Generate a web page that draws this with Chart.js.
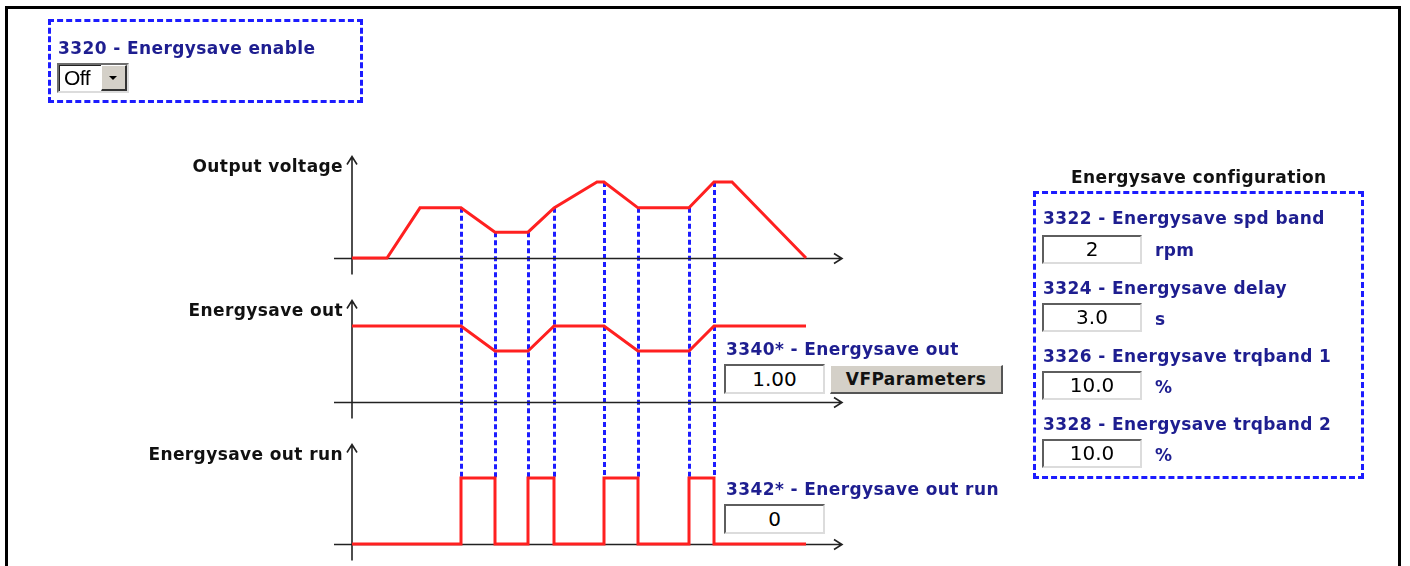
<!DOCTYPE html>
<html>
<head>
<meta charset="utf-8">
<script src="https://cdn.jsdelivr.net/npm/chart.js@4.4.1/dist/chart.umd.min.js"></script>
<style>
  body { margin: 0; background: #fff; }
  #page { position: relative; width: 1410px; height: 566px; overflow: hidden; font-family: "DejaVu Sans", Verdana, sans-serif; }
  #frame { position: absolute; left: 5px; top: 6px; width: 1390px; height: 600px; border: 3px solid #000; }
  #diagram { position: absolute; left: 0; top: 0; }
  .t { position: absolute; font-weight: bold; font-size: 17px; line-height: 17px; letter-spacing: 0.4px; white-space: nowrap; }
  .blue { color: #1e1e90; }
  .black { color: #111; }
  .right { text-align: right; }
  .box { position: absolute; border: 3px dashed #1c1cff; }
  .field { position: absolute; box-sizing: border-box; background: #fff;
    border-top: 2px solid #5e5e5e; border-left: 2px solid #5e5e5e;
    border-bottom: 2px solid #dcdcdc; border-right: 2px solid #dcdcdc;
    font-size: 20px; text-align: center; color: #000; }
  .button { position: absolute; box-sizing: border-box; background: #d4d0c8;
    border-top: 1px solid #fff; border-left: 1px solid #fff;
    border-bottom: 2px solid #555; border-right: 2px solid #555;
    font-weight: bold; font-size: 17px; letter-spacing: 0.4px; text-align: center; color: #111; }
  .select { position: absolute; box-sizing: border-box; left: 57px; top: 63px; width: 72px; height: 30px; background: #fff;
    border-top: 2px solid #6e6e6e; border-left: 2px solid #6e6e6e;
    border-bottom: 2px solid #dcdcdc; border-right: 2px solid #dcdcdc;
    box-shadow: inset 1px 1px 0 #222; }
  .select span { position: absolute; left: 5px; top: 0; font-family: "Liberation Sans", Arial, sans-serif; font-size: 21px; line-height: 26px; letter-spacing: -0.5px; color: #000; }
  .select .drop { position: absolute; right: 0; top: 0; width: 26px; height: 26px; box-sizing: border-box; background: #d4d0c8;
    border-top: 1px solid #fff; border-left: 1px solid #fff; border-bottom: 2px solid #333; border-right: 2px solid #333; }
  .select .drop:after { content: ""; position: absolute; left: 7px; top: 10px; border-left: 4px solid transparent; border-right: 4px solid transparent; border-top: 4px solid #000; }
</style>
</head>
<body>
<div id="page">
  <div id="frame"></div>
  <canvas id="diagram" width="1410" height="566"></canvas>

  <div class="box" style="left:48px; top:19px; width:309px; height:78px;"></div>
  <div class="t blue" style="left:58px; top:40px;">3320 - Energysave enable</div>
  <div class="select"><span>Off</span><div class="drop"></div></div>

  <div class="t black right" style="right:1067px; top:158px;">Output voltage</div>
  <div class="t black right" style="right:1067px; top:302px;">Energysave out</div>
  <div class="t black right" style="right:1067px; top:446px;">Energysave out run</div>

  <div class="t blue" style="left:726px; top:341px;">3340* - Energysave out</div>
  <div class="field" style="left:724px; top:364px; width:101px; height:30px; line-height:26px;">1.00</div>
  <div class="button" style="left:830px; top:365px; width:173px; height:29px; line-height:26px;">VFParameters</div>

  <div class="t blue" style="left:726px; top:481px;">3342* - Energysave out run</div>
  <div class="field" style="left:724px; top:504px; width:101px; height:30px; line-height:26px;">0</div>

  <div class="t black" style="left:1071px; top:169px;">Energysave configuration</div>
  <div class="box" style="left:1033px; top:191px; width:325px; height:282px;"></div>
  <div class="t blue" style="left:1043px; top:210px;">3322 - Energysave spd band</div>
  <div class="field" style="left:1042px; top:235px; width:100px; height:29px; line-height:25px;">2</div>
  <div class="t blue" style="left:1155px; top:242px;">rpm</div>
  <div class="t blue" style="left:1043px; top:280px;">3324 - Energysave delay</div>
  <div class="field" style="left:1042px; top:303px; width:100px; height:29px; line-height:25px;">3.0</div>
  <div class="t blue" style="left:1155px; top:311px;">s</div>
  <div class="t blue" style="left:1043px; top:348px;">3326 - Energysave trqband 1</div>
  <div class="field" style="left:1042px; top:371px; width:100px; height:29px; line-height:25px;">10.0</div>
  <div class="t blue" style="left:1155px; top:379px;">%</div>
  <div class="t blue" style="left:1043px; top:416px;">3328 - Energysave trqband 2</div>
  <div class="field" style="left:1042px; top:439px; width:100px; height:29px; line-height:25px;">10.0</div>
  <div class="t blue" style="left:1155px; top:447px;">%</div>
</div>

<script>
// time in tenths of a second
const voltageTime  = [0, 3.5, 6.8, 10.9, 14.3, 17.6, 20.2, 24.5, 25.2, 28.6, 33.7, 36.2, 38.0, 45.4];
const voltageValue = [0, 0, 66, 66, 34, 34, 66, 100, 100, 66, 66, 100, 100, 0];

const esOutTime  = [0, 10.9, 14.3, 17.6, 20.2, 25.2, 28.6, 33.7, 36.2, 45.4];
const esOutValue = [1, 1, 0.67, 0.67, 1, 1, 0.67, 0.67, 1, 1];

// out run is a square wave, each edge listed twice
const runTime  = [0, 10.9, 10.9, 14.3, 14.3, 17.6, 17.6, 20.2, 20.2, 25.2, 25.2, 28.6, 28.6, 33.7, 33.7, 36.2, 36.2, 45.4];
const runValue = [0, 0, 1, 1, 0, 0, 1, 1, 0, 0, 1, 1, 0, 0, 1, 1, 0, 0];

// blue dashed guides where energysave switches
const markerTime = [10.9, 14.3, 17.6, 20.2, 25.2, 28.6, 33.7, 36.2];

// layout of the drawing area (pixels)
const AREA = { left: 330, right: 850, top: 150, bottom: 560 };
const X_MIN = -2.2, X_MAX = 49.8;
const AXIS_X_FROM = -1.8, AXIS_X_TO = 49.0;
const RED = "#ff2020";

function pairs(xs, ys) {
  return xs.map((x, i) => ({ x: x, y: ys[i] }));
}

// puts value 0 at the baseline pixel, pxPerUnit pixels for each unit
function panelScale(baseline, pxPerUnit) {
  return {
    type: "linear",
    display: false,
    min: -(AREA.bottom - baseline) / pxPerUnit,
    max: (baseline - AREA.top) / pxPerUnit,
  };
}

function lineSet(data, axis) {
  return {
    data: data,
    yAxisID: axis,
    borderColor: RED,
    borderWidth: 3,
    pointRadius: 0,
    tension: 0,
    fill: false,
  };
}

// arrowed axes for each panel and the dashed guides
const axesPlugin = {
  id: "axes",
  beforeDatasetsDraw(chart) {
    const ctx = chart.ctx;
    const x = chart.scales.x;
    const x0 = x.getPixelForValue(0);
    const xa = x.getPixelForValue(AXIS_X_FROM);
    const xb = x.getPixelForValue(AXIS_X_TO);

    ctx.save();
    // guides
    ctx.strokeStyle = "#1c1cff";
    ctx.lineWidth = 3;
    ctx.setLineDash([5, 3]);
    for (const t of markerTime) {
      const px = Math.round(x.getPixelForValue(t)) + 0.5;
      const v = voltageValue[voltageTime.indexOf(t)];
      ctx.beginPath();
      ctx.moveTo(px, chart.scales.yV.getPixelForValue(v));
      ctx.lineTo(px, chart.scales.yR.getPixelForValue(1));
      ctx.stroke();
    }
    ctx.setLineDash([]);

    ctx.strokeStyle = "#222";
    ctx.lineWidth = 1.6;
    for (const [id, above] of [["yV", 102], ["yE", 102], ["yR", 100]]) {
      const base = Math.round(chart.scales[id].getPixelForValue(0)) + 0.5;
      const top = base - above;
      ctx.beginPath();
      ctx.moveTo(xa, base);
      ctx.lineTo(xb, base);
      ctx.moveTo(xb - 8, base - 5);
      ctx.lineTo(xb, base);
      ctx.lineTo(xb - 8, base + 5);
      ctx.moveTo(x0, base + 16);
      ctx.lineTo(x0, top);
      ctx.moveTo(x0 - 5, top + 8);
      ctx.lineTo(x0, top);
      ctx.lineTo(x0 + 5, top + 8);
      ctx.stroke();
    }
    ctx.restore();
  },
};

new Chart(document.getElementById("diagram"), {
  type: "line",
  data: {
    datasets: [
      lineSet(pairs(voltageTime, voltageValue), "yV"),
      lineSet(pairs(esOutTime, esOutValue), "yE"),
      lineSet(pairs(runTime, runValue), "yR"),
    ],
  },
  options: {
    responsive: false,
    animation: false,
    devicePixelRatio: 1,
    layout: {
      padding: { left: AREA.left, right: 1410 - AREA.right, top: AREA.top, bottom: 566 - AREA.bottom },
    },
    plugins: { legend: { display: false }, tooltip: { enabled: false } },
    scales: {
      x: { type: "linear", display: false, min: X_MIN, max: X_MAX },
      yV: panelScale(258, 0.76),
      yE: panelScale(402, 76),
      yR: panelScale(544, 66),
    },
  },
  plugins: [axesPlugin],
});
</script>
</body>
</html>
